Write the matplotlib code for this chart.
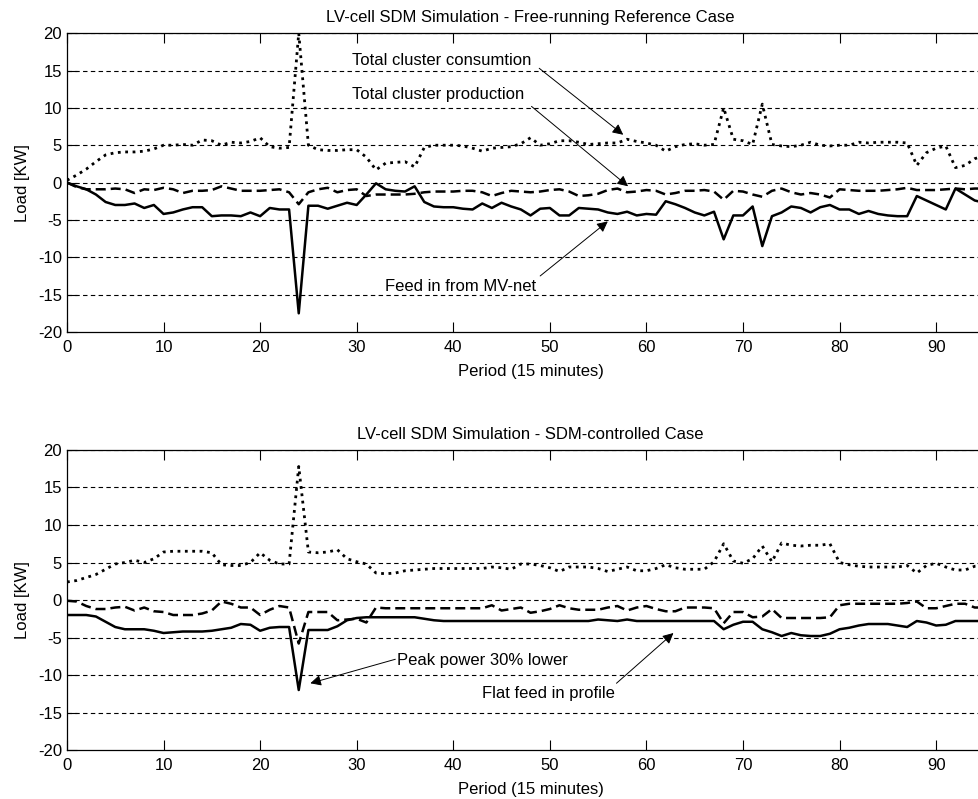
import numpy as np
import matplotlib
matplotlib.use("Agg")
import matplotlib.pyplot as plt

plt.rcParams['font.family'] = ['Liberation Sans', 'DejaVu Sans']
plt.rcParams['axes.unicode_minus'] = False

periods = np.arange(96)

# free-running reference case
cons_ref = [0.3, 1.0, 1.8, 2.8, 3.7, 4.0, 4.1, 4.1, 4.2, 4.5,
            5.0, 5.0, 5.1, 5.0, 5.7, 5.6, 5.0, 5.4, 5.3, 5.5,
            6.0, 4.8, 4.6, 4.7, 20.0, 5.0, 4.4, 4.3, 4.3, 4.4,
            4.4, 3.4, 1.7, 2.6, 2.7, 2.8, 2.1, 4.7, 5.0, 5.0,
            5.0, 4.9, 4.6, 4.2, 4.6, 4.7, 4.8, 5.2, 6.0, 5.0,
            5.2, 5.6, 5.6, 5.4, 5.1, 5.2, 5.3, 5.3, 5.8, 5.5,
            5.3, 5.0, 4.2, 4.8, 5.1, 5.2, 5.0, 5.1, 10.0, 5.8,
            5.6, 5.1, 10.5, 5.1, 4.9, 4.8, 5.0, 5.4, 5.0, 4.9,
            5.0, 5.0, 5.4, 5.3, 5.4, 5.4, 5.4, 5.3, 2.3, 4.0,
            4.6, 4.9, 2.0, 2.3, 3.2, 3.6]
prod_ref = [0.0, -0.6, -0.9, -0.9, -0.9, -0.8, -0.9, -1.4, -0.9, -1.0,
            -0.7, -0.9, -1.4, -1.1, -1.1, -1.0, -0.5, -0.8, -1.1, -1.1,
            -1.1, -1.0, -0.9, -1.3, -2.9, -1.3, -0.9, -0.7, -1.3, -1.0,
            -0.9, -1.8, -1.6, -1.6, -1.6, -1.6, -1.5, -1.3, -1.2, -1.2,
            -1.2, -1.1, -1.1, -1.3, -1.8, -1.4, -1.1, -1.2, -1.3, -1.2,
            -1.0, -0.9, -1.2, -1.8, -1.7, -1.5, -1.0, -0.8, -1.3, -1.2,
            -1.0, -1.1, -1.6, -1.4, -1.1, -1.1, -1.0, -1.2, -2.3, -1.1,
            -1.2, -1.6, -1.9, -1.1, -0.8, -1.3, -1.6, -1.4, -1.6, -2.0,
            -0.9, -1.0, -1.1, -1.1, -1.1, -1.0, -0.9, -0.7, -1.0, -1.0,
            -1.0, -0.9, -0.8, -0.9, -0.8, -0.8]
feed_ref = [0.0, -0.5, -0.9, -1.6, -2.6, -3.0, -3.0, -2.8, -3.4, -3.0,
            -4.2, -4.0, -3.6, -3.3, -3.3, -4.5, -4.4, -4.4, -4.5, -4.0,
            -4.5, -3.4, -3.6, -3.6, -17.5, -3.1, -3.1, -3.5, -3.1, -2.7,
            -3.0, -1.6, -0.1, -0.9, -1.1, -1.2, -0.5, -2.6, -3.2, -3.3,
            -3.3, -3.5, -3.6, -2.8, -3.4, -2.7, -3.2, -3.6, -4.4, -3.5,
            -3.4, -4.4, -4.4, -3.4, -3.5, -3.6, -4.0, -4.2, -3.9, -4.4,
            -4.2, -4.3, -2.5, -2.9, -3.4, -4.0, -4.4, -3.9, -7.6, -4.4,
            -4.4, -3.2, -8.5, -4.5, -4.0, -3.2, -3.4, -4.0, -3.3, -3.0,
            -3.6, -3.6, -4.2, -3.8, -4.2, -4.4, -4.5, -4.5, -1.8, -2.4,
            -3.0, -3.6, -0.8, -1.6, -2.4, -2.7]

# SDM-controlled case
cons_sdm = [2.4, 2.6, 3.0, 3.4, 4.1, 4.8, 5.0, 5.3, 5.0, 5.5,
            6.4, 6.5, 6.5, 6.5, 6.5, 6.3, 4.7, 4.6, 4.6, 5.0,
            6.3, 5.3, 4.8, 4.8, 17.8, 6.4, 6.3, 6.4, 6.7, 5.5,
            5.1, 4.8, 3.6, 3.5, 3.6, 3.9, 4.0, 4.1, 4.2, 4.2,
            4.2, 4.2, 4.2, 4.2, 4.4, 4.3, 4.1, 4.8, 4.8, 4.6,
            4.3, 3.8, 4.4, 4.4, 4.4, 4.2, 3.8, 4.1, 4.4, 3.9,
            3.9, 4.2, 4.7, 4.3, 4.1, 4.1, 4.1, 5.1, 7.5, 5.2,
            4.9, 5.5, 7.2, 5.1, 7.6, 7.3, 7.2, 7.3, 7.3, 7.5,
            5.0, 4.7, 4.5, 4.4, 4.4, 4.4, 4.4, 4.6, 3.6, 4.6,
            4.9, 4.4, 4.0, 4.0, 4.5, 4.6]
prod_sdm = [-0.1, -0.2, -0.8, -1.2, -1.2, -1.0, -0.9, -1.4, -1.0, -1.5,
            -1.6, -2.0, -2.0, -2.0, -1.8, -1.4, -0.2, -0.5, -1.0, -1.0,
            -2.0, -1.3, -0.8, -1.0, -5.8, -1.6, -1.6, -1.6, -2.7, -2.6,
            -2.5, -3.0, -1.0, -1.1, -1.1, -1.1, -1.1, -1.1, -1.1, -1.1,
            -1.1, -1.1, -1.1, -1.1, -0.7, -1.4, -1.2, -1.0, -1.7, -1.5,
            -1.2, -0.7, -1.1, -1.3, -1.3, -1.3, -1.0, -0.8, -1.4, -1.0,
            -0.8, -1.2, -1.5, -1.5, -1.0, -1.0, -1.0, -1.1, -3.1, -1.6,
            -1.6, -2.3, -2.2, -1.2, -2.4, -2.4, -2.4, -2.4, -2.4, -2.3,
            -0.7, -0.5, -0.5, -0.5, -0.5, -0.5, -0.5, -0.4, -0.2, -1.1,
            -1.1, -0.8, -0.5, -0.5, -1.0, -1.0]
feed_sdm = [-2.0, -2.0, -2.0, -2.2, -2.9, -3.6, -3.9, -3.9, -3.9, -4.1,
            -4.4, -4.3, -4.2, -4.2, -4.2, -4.1, -3.9, -3.7, -3.2, -3.3,
            -4.1, -3.7, -3.6, -3.6, -12.0, -4.0, -4.0, -4.0, -3.5, -2.7,
            -2.4, -2.3, -2.3, -2.3, -2.3, -2.3, -2.3, -2.5, -2.7, -2.8,
            -2.8, -2.8, -2.8, -2.8, -2.8, -2.8, -2.8, -2.8, -2.8, -2.8,
            -2.8, -2.8, -2.8, -2.8, -2.8, -2.6, -2.7, -2.8, -2.6, -2.8,
            -2.8, -2.8, -2.8, -2.8, -2.8, -2.8, -2.8, -2.8, -3.9, -3.3,
            -2.9, -2.9, -3.9, -4.3, -4.8, -4.4, -4.7, -4.8, -4.8, -4.5,
            -3.9, -3.7, -3.4, -3.2, -3.2, -3.2, -3.4, -3.6, -2.8, -3.0,
            -3.4, -3.3, -2.8, -2.8, -2.8, -2.8]

titles = ["LV-cell SDM Simulation - Free-running Reference Case",
          "LV-cell SDM Simulation - SDM-controlled Case"]
yticks = [-20, -15, -10, -5, 0, 5, 10, 15, 20]
xticks = [0, 10, 20, 30, 40, 50, 60, 70, 80, 90]

fs = 12
fig = plt.figure(figsize=(9.79, 7.99), dpi=100)
ax1 = fig.add_axes([0.0684, 0.5845, 0.947, 0.374])
ax2 = fig.add_axes([0.0684, 0.0613, 0.947, 0.3755])

series = [(cons_ref, prod_ref, feed_ref), (cons_sdm, prod_sdm, feed_sdm)]
for ax, (c, p, f), t in zip([ax1, ax2], series, titles):
    for y in yticks[1:]:
        ax.axhline(y, color='k', lw=0.8, ls=(0, (4, 3)), zorder=0)
    ax.plot(periods, c, color='k', ls=':', lw=2.0)
    ax.plot(periods, p, color='k', ls=(0, (4, 2)), lw=1.8)
    ax.plot(periods, f, color='k', ls='-', lw=1.8)
    ax.set_xlim(0, 96)
    ax.set_ylim(-20, 20)
    ax.set_xticks(xticks)
    ax.set_yticks(yticks)
    ax.tick_params(direction='in', top=True, right=True, length=7,
                   labelsize=fs, width=0.8)
    ax.tick_params(axis='x', pad=6)
    for s in ax.spines.values():
        s.set_linewidth(0.9)
    ax.set_title(t, fontsize=fs, pad=8)
    ax.set_xlabel("Period (15 minutes)", fontsize=fs, labelpad=6)
    ax.set_ylabel("Load [KW]", fontsize=fs, labelpad=6)

arrow = dict(arrowstyle='-|>', color='k', lw=0.7, mutation_scale=16,
             shrinkA=0, shrinkB=0)
ax1.text(29.5, 16.3, "Total cluster consumtion", fontsize=fs, va='center')
ax1.annotate("", xy=(57.6, 6.4), xytext=(48.9, 15.3), arrowprops=arrow)
ax1.text(29.5, 11.8, "Total cluster production", fontsize=fs, va='center')
ax1.annotate("", xy=(58.1, -0.5), xytext=(48.1, 10.2), arrowprops=arrow)
ax1.text(32.9, -13.9, "Feed in from MV-net", fontsize=fs, va='center')
ax1.annotate("", xy=(56.0, -5.2), xytext=(49.0, -12.5), arrowprops=arrow)

ax2.text(34.2, -8.0, "Peak power 30% lower", fontsize=fs, va='center')
ax2.annotate("", xy=(25.2, -11.1), xytext=(34.0, -7.9), arrowprops=arrow)
ax2.text(43.0, -12.5, "Flat feed in profile", fontsize=fs, va='center')
ax2.annotate("", xy=(62.8, -4.4), xytext=(56.9, -11.1), arrowprops=arrow)

fig.savefig("out.png", dpi=100)
